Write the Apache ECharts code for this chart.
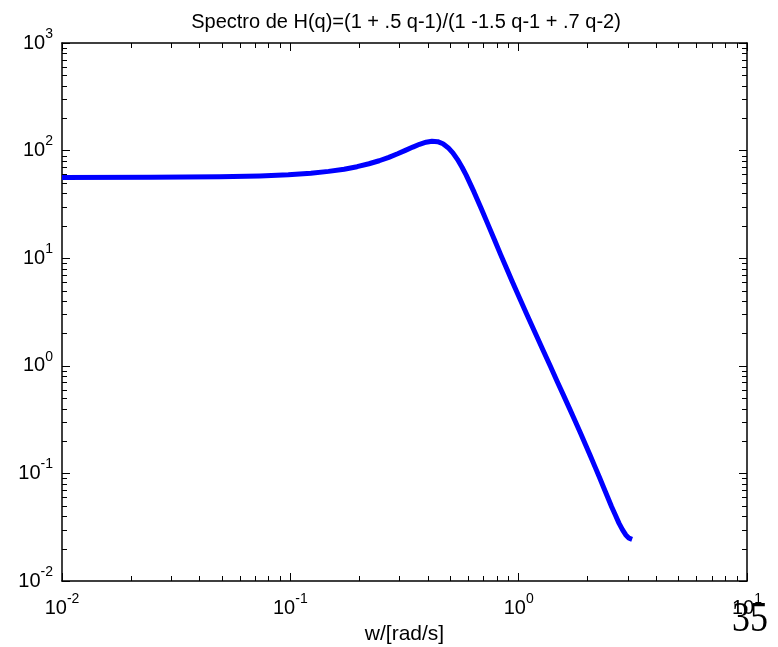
<!DOCTYPE html>
<html>
<head>
<meta charset="utf-8">
<script src="https://cdn.jsdelivr.net/npm/echarts@6/dist/echarts.min.js"></script>
<style>
  html, body { margin: 0; padding: 0; background: #ffffff; }
  #chart { width: 778px; height: 647px; }
</style>
</head>
<body>
<div id="chart"></div>
<script>
// Frequency grid (rad/s) and the spectrum |H(e^{iw})|^2 sampled on it
const frequency = [0.01, 0.0245, 0.049, 0.0736, 0.098, 0.123, 0.147, 0.172, 0.196, 0.221,
  0.245, 0.27, 0.295, 0.319, 0.344, 0.368, 0.393, 0.417, 0.442, 0.466,
  0.491, 0.515, 0.54, 0.565, 0.589, 0.638, 0.687, 0.736, 0.785, 0.834,
  0.884, 0.933, 0.982, 1.08, 1.178, 1.276, 1.374, 1.473, 1.571, 1.669,
  1.767, 1.865, 1.963, 2.062, 2.16, 2.258, 2.356, 2.454, 2.553, 2.651,
  2.749, 2.847, 2.945, 3.043, 3.14];
const spectrum = [56.3, 56.5, 57.1, 58.1, 59.6, 61.6, 64.1, 67.2, 70.9, 75.5,
  80.5, 86.6, 93.4, 100.4, 107.8, 114.4, 119.6, 122.2, 121.0, 115.7,
  106.5, 95.3, 82.5, 70.0, 59.1, 41.1, 28.6, 20.3, 14.7, 10.8,
  8.1, 6.2, 4.86, 3.08, 2.05, 1.41, 1.00, 0.72, 0.534, 0.402,
  0.307, 0.237, 0.185, 0.145, 0.115, 0.092, 0.074, 0.060, 0.049, 0.041,
  0.0345, 0.030, 0.0268, 0.025, 0.0244];

// Decade tick positions of both logarithmic axes
const xDecades = [0.01, 0.1, 1, 10];
const yDecades = [0.01, 0.1, 1, 10, 100, 1000];

const titleText = 'Spectro de H(q)=(1 + .5 q-1)/(1 -1.5 q-1 + .7 q-2)';
const xAxisTitle = 'w/[rad/s]';
const pageNumber = '35';

const FONT = 'Liberation Sans, Arial, Helvetica, sans-serif';

// minor ticks 2..9 inside each decade
function minorTicks(decades) {
  const out = [];
  for (let i = 0; i < decades.length - 1; i++) {
    for (let m = 2; m <= 9; m++) out.push(+(decades[i] * m).toPrecision(6));
  }
  return out;
}

const tickMarks = []
  .concat(minorTicks(xDecades).map(v => [v, 1, 0]))
  .concat(minorTicks(yDecades).map(v => [1, v, 1]));

const series = frequency.map((w, i) => [w, spectrum[i]]);

// "10" with the exponent raised as a superscript
function powerLabel(v) {
  const e = Math.round(Math.log10(v));
  return '{b|10}{e|' + e + '}';
}
const powerRich = {
  b: { fontSize: 20, fontFamily: FONT, color: '#000', lineHeight: 32 },
  e: { fontSize: 14, fontFamily: FONT, color: '#000', lineHeight: 14, verticalAlign: 'top' }
};

const axisLine = { show: true, lineStyle: { color: '#000', width: 1.5 } };
const majorTick = { show: true, inside: true, length: 8, lineStyle: { color: '#000', width: 1 } };

function logAxis(extra) {
  return Object.assign({
    type: 'log',
    logBase: 10,
    axisLine: axisLine,
    axisTick: majorTick,
    splitLine: { show: false },
    minorTick: { show: false },
    minorSplitLine: { show: false }
  }, extra);
}

const chart = echarts.init(document.getElementById('chart'), null, { renderer: 'canvas' });

chart.setOption({
  animation: false,
  backgroundColor: '#ffffff',
  title: {
    text: titleText,
    left: 401,
    top: 7,
    textAlign: 'center',
    textStyle: { fontFamily: FONT, fontSize: 20, fontWeight: 'normal', color: '#000' }
  },
  grid: { left: 62, right: 31, top: 43, bottom: 66, containLabel: false, outerBoundsMode: 'none' },
  xAxis: [
    logAxis({
      position: 'bottom',
      min: xDecades[0], max: xDecades[xDecades.length - 1],
      axisLabel: { show: true, margin: 11, formatter: powerLabel, rich: powerRich },
      name: xAxisTitle,
      nameLocation: 'middle',
      nameGap: 43,
      nameTextStyle: { fontFamily: FONT, fontSize: 21, color: '#000' }
    }),
    logAxis({
      position: 'top',
      min: xDecades[0], max: xDecades[xDecades.length - 1],
      axisLabel: { show: false }
    })
  ],
  yAxis: [
    logAxis({
      position: 'left',
      min: yDecades[0], max: yDecades[yDecades.length - 1],
      axisLabel: { show: true, margin: 9, formatter: powerLabel, rich: powerRich }
    }),
    logAxis({
      position: 'right',
      min: yDecades[0], max: yDecades[yDecades.length - 1],
      axisLabel: { show: false }
    })
  ],
  series: [
    {
      // short minor ticks on all four sides of the box
      type: 'custom',
      xAxisIndex: 0,
      yAxisIndex: 0,
      silent: true,
      clip: false,
      z: 1,
      data: tickMarks,
      renderItem: function (params, api) {
        const cs = params.coordSys;
        const len = 5;
        const style = { stroke: '#000', lineWidth: 1 };
        if (api.value(2) === 0) {
          const x = Math.round(api.coord([api.value(0), 1])[0]) + 0.5;
          const yb = cs.y + cs.height;
          return {
            type: 'group',
            children: [
              { type: 'line', shape: { x1: x, y1: yb, x2: x, y2: yb - len }, style: style },
              { type: 'line', shape: { x1: x, y1: cs.y, x2: x, y2: cs.y + len }, style: style }
            ]
          };
        }
        const y = Math.round(api.coord([1, api.value(1)])[1]) + 0.5;
        const xr = cs.x + cs.width;
        return {
          type: 'group',
          children: [
            { type: 'line', shape: { x1: cs.x, y1: y, x2: cs.x + len, y2: y }, style: style },
            { type: 'line', shape: { x1: xr, y1: y, x2: xr - len, y2: y }, style: style }
          ]
        };
      }
    },
    {
      type: 'line',
      xAxisIndex: 0,
      yAxisIndex: 0,
      data: series,
      showSymbol: false,
      smooth: false,
      clip: true,
      z: 3,
      lineStyle: { color: '#0000ff', width: 5, join: 'round', cap: 'butt' }
    }
  ],
  graphic: [
    {
      type: 'text',
      left: 732,
      top: 598,
      scaleY: 1.2,
      z: 10,
      style: { text: pageNumber, fontFamily: 'Liberation Serif, Times New Roman, serif', fontSize: 36, fill: '#000' }
    }
  ]
});
</script>
</body>
</html>
